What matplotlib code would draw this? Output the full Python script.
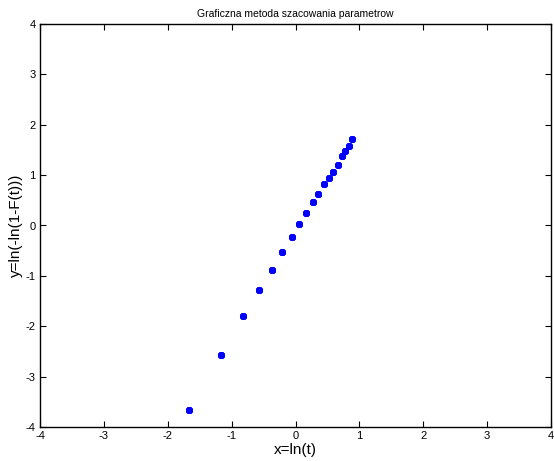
import matplotlib
matplotlib.use('Agg')
from matplotlib import pyplot as plt

plt.rcParams['font.family'] = ['Liberation Sans', 'DejaVu Sans']
plt.rcParams['axes.unicode_minus'] = False

# points of the Weibull probability plot: x = ln(t), y = ln(-ln(1-F(t)))
x_vals = [-1.664, -1.159, -0.822, -0.577, -0.374, -0.207, -0.062, 0.062, 0.167,
          0.270, 0.359, 0.442, 0.520, 0.593, 0.660, 0.723, 0.780, 0.832, 0.885]
y_vals = [-3.655, -2.566, -1.790, -1.280, -0.889, -0.520, -0.222, 0.036, 0.254,
          0.460, 0.631, 0.830, 0.942, 1.057, 1.200, 1.379, 1.472, 1.577, 1.710]
ticks = [-4, -3, -2, -1, 0, 1, 2, 3, 4]

fig = plt.figure(figsize=(5.54, 4.61), dpi=100)
ax = fig.add_axes([40 / 554, 34 / 461, 511 / 554, 403 / 461])
ax.plot(x_vals, y_vals, linestyle='none', marker=(8, 2, 0), markersize=5,
        markeredgewidth=1.8, color='#0000ff')

ax.set_xlim(-4, 4)
ax.set_ylim(-4, 4)
ax.set_xticks(ticks)
ax.set_yticks(ticks)
ax.tick_params(direction='in', top=True, right=True, length=4, width=0.8,
               labelsize=8, pad=3)
for s in ax.spines.values():
    s.set_linewidth(1.0)

ax.set_title('Graficzna metoda szacowania parametrow', fontsize=7.5, pad=5)
ax.set_xlabel('x=ln(t)', fontsize=11, labelpad=1)
ax.set_ylabel('y=ln(-ln(1-F(t)))', fontsize=11, labelpad=2)

fig.savefig('out.png', dpi=100)
